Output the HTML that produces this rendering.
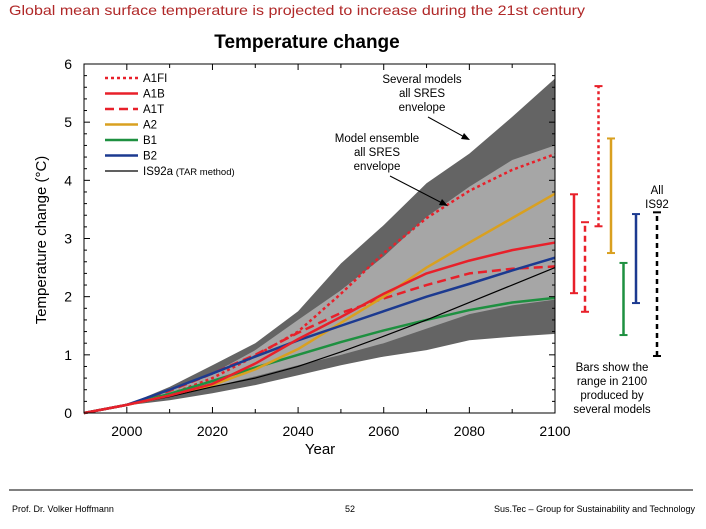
<!DOCTYPE html>
<html><head><meta charset="utf-8"><style>
html,body{margin:0;padding:0;background:#fff;width:706px;height:529px;overflow:hidden;font-family:"Liberation Sans",sans-serif}
</style></head><body>
<svg width="706" height="529" viewBox="0 0 706 529" xmlns="http://www.w3.org/2000/svg" font-family="Liberation Sans, sans-serif">
<text x="9" y="15" font-size="14" fill="#b02828" textLength="576" lengthAdjust="spacingAndGlyphs">Global mean surface temperature is projected to increase during the 21st century</text>
<text x="307" y="48" font-size="19" font-weight="bold" text-anchor="middle">Temperature change</text>
<g id="plot"></g>
<line x1="9" y1="490" x2="693" y2="490" stroke="#000" stroke-width="1"/>
<text x="12" y="512" font-size="9">Prof. Dr. Volker Hoffmann</text>
<text x="350" y="512" font-size="9" text-anchor="middle">52</text>
<text x="695" y="512" font-size="9" text-anchor="end">Sus.Tec – Group for Sustainability and Technology</text>
</svg>
<script>
const years=[1990,2000,2010,2020,2030,2040,2050,2060,2070,2080,2090,2100];
const outerUpper=[0,0.14,0.45,0.82,1.2,1.75,2.57,3.23,3.95,4.46,5.09,5.75];
const outerLower=[0,0.13,0.22,0.34,0.48,0.65,0.82,0.97,1.08,1.25,1.31,1.36];
const innerUpper=[0,0.14,0.38,0.68,1.08,1.6,2.11,2.69,3.37,3.89,4.35,4.6];
const innerLower=[0,0.13,0.28,0.45,0.63,0.82,1.0,1.2,1.45,1.7,1.85,1.95];
const a1fi=[0,0.14,0.32,0.6,0.98,1.4,2.05,2.75,3.35,3.82,4.18,4.45];
const a1b=[0,0.14,0.3,0.5,0.85,1.27,1.65,2.05,2.4,2.62,2.8,2.93];
const a1t=[0,0.14,0.38,0.68,1.0,1.38,1.72,1.97,2.2,2.4,2.48,2.52];
const a2=[0,0.14,0.3,0.48,0.75,1.1,1.55,2.0,2.5,2.93,3.35,3.77];
const b1=[0,0.14,0.33,0.55,0.78,1.0,1.22,1.42,1.6,1.77,1.9,1.98];
const b2=[0,0.14,0.4,0.68,0.97,1.25,1.5,1.75,2.0,2.22,2.45,2.67];
const is92a=[0,0.14,0.28,0.45,0.6,0.8,1.05,1.32,1.6,1.9,2.2,2.5];
const barNames=["A1B","A1T","A1FI","A2","B1","B2","IS92"];
const barLow=[2.06,1.74,3.21,2.75,1.34,1.89,0.98];
const barHigh=[3.76,3.28,5.62,4.72,2.58,3.42,3.45];
const xTicks=[2000,2020,2040,2060,2080,2100];
const yTicks=[0,1,2,3,4,5,6];
const X0=84,X1=555,Y0=413,Y1=64;
const xs=v=>X0+(v-1990)/110*(X1-X0);
const ys=v=>Y0-v/6*(Y0-Y1);
const NS="http://www.w3.org/2000/svg";
const g=document.getElementById('plot');
function mk(t,a,p){const e=document.createElementNS(NS,t);for(const k in a)e.setAttribute(k,a[k]);(p||g).appendChild(e);return e;}
function band(up,lo,fill,name){let d="M"+years.map((y,i)=>xs(y)+","+ys(up[i])).join("L");for(let i=years.length-1;i>=0;i--)d+="L"+xs(years[i])+","+ys(lo[i]);const e=mk('path',{d:d+"Z",fill:fill});

}
band(outerUpper,outerLower,"#646464","outer-envelope");
band(innerUpper,innerLower,"#a6a6a6","inner-envelope");
const series=[["a1t-line",a1t,"#e8202a",2.5,"9,5"],["a1fi-line",a1fi,"#e8202a",2.5,"3,3"],["b1-line",b1,"#1e9040",2.5,""],["a2-line",a2,"#d9a020",2.5,""],["is92a-line",is92a,"#000",1.2,""],["b2-line",b2,"#1c3a90",2.5,""],["a1b-line",a1b,"#e8202a",2.5,""]];
series.forEach(s=>{const e=mk('polyline',{points:years.map((y,i)=>xs(y)+","+ys(s[1][i])).join(" "),fill:"none",stroke:s[2],"stroke-width":s[3],"stroke-dasharray":s[4],"stroke-linejoin":"round"});

});
const fr=mk('rect',{x:X0,y:Y1,width:X1-X0,height:Y0-Y1,fill:"none",stroke:"#000","stroke-width":1});


for(let y=1990;y<=2100;y+=10){const L=(y%20==0)?6:4;mk('line',{x1:xs(y),y1:Y0,x2:xs(y),y2:Y0-L,stroke:"#000"});mk('line',{x1:xs(y),y1:Y1,x2:xs(y),y2:Y1+L,stroke:"#000"});}
for(let v=0;v<=6.001;v+=0.2){const L=(Math.abs(v-Math.round(v))<0.01)?6:3;mk('line',{x1:X0,y1:ys(v),x2:X0+L,y2:ys(v),stroke:"#000"});mk('line',{x1:X1,y1:ys(v),x2:X1-L,y2:ys(v),stroke:"#000"});}
xTicks.forEach(t=>{const e=mk('text',{x:xs(t),y:436,"font-size":14,"text-anchor":"middle"});e.textContent=t;

});
yTicks.forEach(t=>{const e=mk('text',{x:72,y:ys(t)+5,"font-size":14,"text-anchor":"end"});e.textContent=t;

});
let t=mk('text',{x:320,y:454,"font-size":15,"text-anchor":"middle"});t.textContent="Year";


t=mk('text',{x:46,y:240,"font-size":15,"text-anchor":"middle",transform:"rotate(-90 46 240)"});t.textContent="Temperature change (°C)";


const leg=[["A1FI","#e8202a","3,3",2.5],["A1B","#e8202a","",2.5],["A1T","#e8202a","9,5",2.5],["A2","#d9a020","",2.5],["B1","#1e9040","",2.5],["B2","#1c3a90","",2.5],["IS92a","#000","",1.2]];
leg.forEach((l,i)=>{const y=78+i*15.5;const gg=mk('g',{});


mk('line',{x1:105,y1:y,x2:138,y2:y,stroke:l[1],"stroke-width":l[3],"stroke-dasharray":l[2]},gg);
const tx=mk('text',{x:143,y:y+4,"font-size":11.5},gg);tx.textContent=l[0];
if(l[0]=="IS92a"){const s=mk('tspan',{"font-size":9.5},tx);s.textContent=" (TAR method)";}});
function txt(lines,cx,y0,name){const e=mk('text',{"font-size":11.5,"text-anchor":"middle"});


lines.forEach((s,i)=>{const sp=mk('tspan',{x:cx,y:y0+i*14},e);sp.textContent=s;});}
txt(["Several models","all SRES","envelope"],422,83,"outer-envelope-label");
txt(["Model ensemble","all SRES","envelope"],377,142,"inner-envelope-label");
mk('line',{x1:428,y1:117,x2:468,y2:139,stroke:"#000"});mk('path',{d:"M470,140 L461,139 L464,133Z"});
mk('line',{x1:390,y1:176,x2:446,y2:205,stroke:"#000"});mk('path',{d:"M448,206 L439,205 L442,199Z"});
const barX=[574,585,598.5,611,623.5,636,657];
const barCol=["#e8202a","#e8202a","#e8202a","#d9a020","#1e9040","#1c3a90","#000"];
const barDash=["","6,4","3,3","","","","5,4"];
barNames.forEach((n,i)=>{const gg=mk('g',{});


const x=barX[i],c=barCol[i];
mk('line',{x1:x,y1:ys(barLow[i]),x2:x,y2:ys(barHigh[i]),stroke:c,"stroke-width":2.5,"stroke-dasharray":barDash[i]},gg);
mk('line',{x1:x-4,y1:ys(barLow[i]),x2:x+4,y2:ys(barLow[i]),stroke:c,"stroke-width":2},gg);
mk('line',{x1:x-4,y1:ys(barHigh[i]),x2:x+4,y2:ys(barHigh[i]),stroke:c,"stroke-width":2},gg);});
txt(["All","IS92"],657,194,"is92-bar-label");
txt(["Bars show the","range in 2100","produced by","several models"],612,371,"bars-note");
</script>
</body></html>
